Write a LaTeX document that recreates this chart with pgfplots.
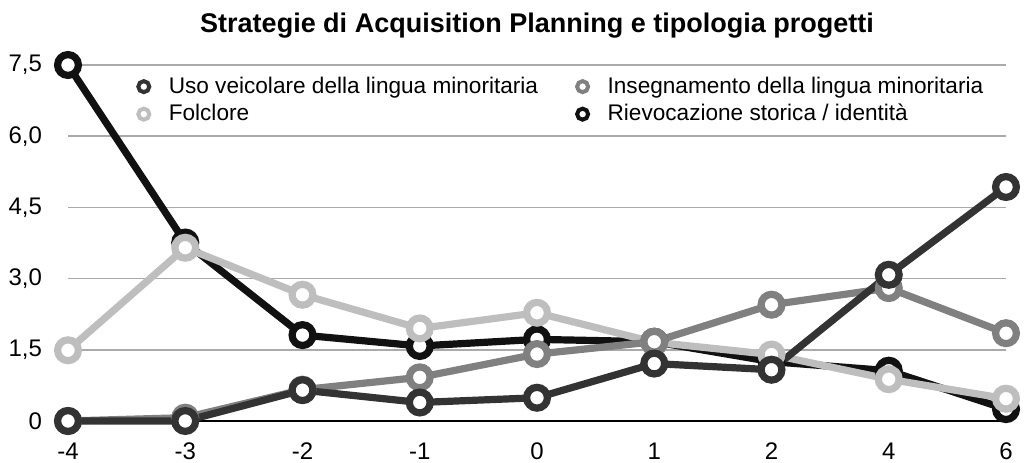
\documentclass[border=0pt]{standalone}
\usepackage{pgfplots}
\pgfplotsset{compat=1.18}
\usepackage{fontspec}
\setmainfont{Liberation Sans}
\usetikzlibrary{calc}
\definecolor{cUso}{HTML}{333333}
\definecolor{cIns}{HTML}{808080}
\definecolor{cFol}{HTML}{BEBEBE}
\definecolor{cRie}{HTML}{111111}
\definecolor{cGrid}{HTML}{AAAAAA}
\begin{document}
\begin{tikzpicture}
\begin{axis}[
  name=ax,
  scale only axis,
  width=469pt, height=178pt,
  xmin=0, xmax=8, ymin=0, ymax=7.5,
  clip=false,
  axis line style={draw=none},
  xtick={0,1,2,3,4,5,6,7,8},
  xticklabels={-4,-3,-2,-1,0,1,2,4,6},
  ytick={0,1.5,3,4.5,6,7.5},
  yticklabels={0,{1,5},{3,0},{4,5},{6,0},{7,5}},
  major tick length=0pt,
  ymajorgrids,
  grid style={cGrid, line width=0.8pt},
  tick label style={font=\fontsize{12}{14}\selectfont},
  yticklabel style={xshift=-9.5pt},
  xticklabel style={yshift=-7.5pt},
  title={\textbf{Strategie di Acquisition Planning e tipologia progetti}},
  title style={font=\fontsize{13.5}{16}\selectfont, yshift=4pt},
  legend columns=2,
  legend cell align=left,
  legend style={draw=none, fill=none, at={(0.066,0.99)}, anchor=north west,
    font=\fontsize{11.3}{13}\selectfont, row sep=0pt,
    /tikz/every even column/.append style={column sep=16.5pt}},
  legend image code/.code={\draw[line width=2pt, fill=white] (0,0) circle (2.75pt);
     \path[draw=none, fill=none] (0,0) -- (10.5pt,0);},
  every axis plot/.append style={line width=3.6pt, mark=*, mark size=5.2pt,
     mark options={fill=white, line width=3.6pt}},
]
\addlegendimage{draw=cUso}
\addlegendentry{Uso veicolare della lingua minoritaria}
\addlegendimage{draw=cIns}
\addlegendentry{Insegnamento della lingua minoritaria}
\addlegendimage{draw=cFol}
\addlegendentry{Folclore}
\addlegendimage{draw=cRie}
\addlegendentry{Rievocazione storica / identità}
\draw[black, line width=0.9pt] (axis cs:0,0) -- (axis cs:8,0);
\addplot[cRie, forget plot] coordinates {(0,7.5) (1,3.76) (2,1.81) (3,1.58) (4,1.72) (5,1.67) (6,1.25) (7,1.06) (8,0.25)};
\addplot[cFol, forget plot] coordinates {(0,1.49) (1,3.65) (2,2.66) (3,1.95) (4,2.28) (5,1.66) (6,1.40) (7,0.88) (8,0.47)};
\addplot[cIns, forget plot] coordinates {(0,0) (1,0.07) (2,0.66) (3,0.92) (4,1.41) (5,1.67) (6,2.45) (7,2.80) (8,1.85)};
\addplot[cUso, forget plot] coordinates {(0,0) (1,0) (2,0.65) (3,0.39) (4,0.49) (5,1.21) (6,1.08) (7,3.08) (8,4.93)};
\end{axis}
\pgfresetboundingbox
\path ($(ax.south west)+(-34pt,-21pt)$) rectangle ($(ax.north east)+(9.5pt,32.5pt)$);
\end{tikzpicture}
\end{document}
